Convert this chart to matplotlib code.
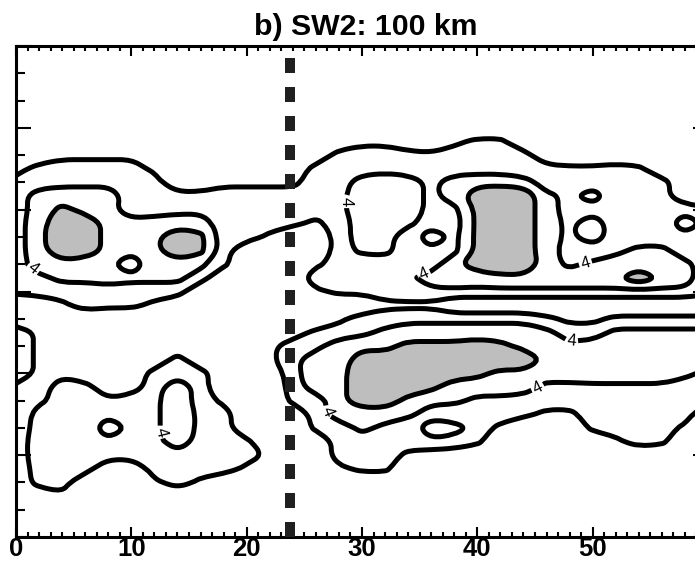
# -*- coding: utf-8 -*-
"""
Contour panel b) SW2: 100 km
"""

#%% Imports
import numpy as np
import matplotlib
matplotlib.use('Agg')
import matplotlib.pyplot as plt
from matplotlib.ticker import MultipleLocator
from matplotlib.path import Path
from matplotlib.patches import PathPatch

plt.rcParams['font.family'] = ['Liberation Sans', 'DejaVu Sans']

#%% Data
# grid positions of the field samples
x_km = np.arange(0, 61, 2)          # 0, 2, ... 60
y_pos = np.arange(0, 18.5, 0.5)     # 0, 0.5, ... 18

# field, one string per x column (x = 0, 2, ... 60), bottom (y=0) to top (y=18)
# every 0.5; each hex digit is the value in half units (8 -> 4.0)
field_cols = [
    "0000012210037777005666666662000000000",  # x=0
    "00006666663233330067ABBBAA66000000000",  # x=2
    "00036666666630000369BEFEDA76300000000",  # x=4
    "00000666566600000669AEEEBA76300000000",  # x=6
    "00000067B7500000056A9BBBAA76300000000",  # x=8
    "0000006676620000056959AA5666300000000",  # x=10
    "00003666777660000369BBBA6663000000000",  # x=12
    "0000666BBBBB66000069AFFA7600000000000",  # x=14
    "000036667766600000069DDA7600000000000",  # x=16
    "0000066666300000000056666630000000000",  # x=18
    "0000036500000000000000666630000000000",  # x=20
    "0000003000000330000000366630000000000",  # x=22
    "0000000000567762000000056630000000000",  # x=24
    "00000000566AAA75003730036666000000000",  # x=26
    "000003666ABBBAA6305666667766600000000",  # x=28
    "000005669AEEEEB7605659AAAAA6630000000",  # x=30
    "000005667AEEEEB9636669AAAAA7630000000",  # x=32
    "0000003659BEEEDA73776659AAA6600000000",  # x=34
    "00000027B69DEEDA737A67B67776500000000",  # x=36
    "00000026A59AEEDA707BB7767AA6630000000",  # x=38
    "00000005667ADEEA707AEDDDDEB6650000000",  # x=40
    "00000000367ABFDA707BFEEEEFB6650000000",  # x=42
    "00000000056ABFBA707BFEEEEFA5600000000",  # x=44
    "000000000367ABA9507BAAAAA966000000000",  # x=46
    "000000000367AA96307B76776765000000000",  # x=48
    "000000005667BAA6307B95BB6A65000000000",  # x=50
    "000000036667BAA9507BA7556566000000000",  # x=52
    "000000066667BAA9507FA9666665000000000",  # x=54
    "000000056667BAA9507BA9666660000000000",  # x=56
    "0000000036669AA9507A967A7000000000000",  # x=58
    "0000000000567AA9505566675000000000000",  # x=60
]

plain_levels = [2, 6]
label_level = [4]
shade_levels = [6, 100]

# where the "4" labels sit
label_spots = [(1.6, 9.9), (13.1, 3.9), (28.4, 12.3), (35.2, 9.8),
               (49.4, 10.0), (48.2, 7.0), (45.3, 5.4), (27.2, 4.6)]

front_x = 23.8
x_ticks = [0, 10, 20, 30, 40, 50]


#%% Function definitions
def smoothPath(path):
    """Redraw a contour polyline as quadratic curves through its edge midpoints"""
    verts, codes = path.vertices, path.codes
    if len(verts) == 0:
        return None
    if codes is None:
        codes = np.full(len(verts), Path.LINETO)
        codes[0] = Path.MOVETO
    out_v, out_c = [], []
    starts = list(np.where(codes == Path.MOVETO)[0]) + [len(codes)]
    for s, e in zip(starts[:-1], starts[1:]):
        pts = verts[s:e]
        closed = codes[e-1] == Path.CLOSEPOLY
        if closed:
            pts = pts[:-1]
        if len(pts) > 2 and np.allclose(pts[0], pts[-1]):
            closed = True
            pts = pts[:-1]
        n = len(pts)
        if n < 3:
            out_v += list(pts)
            out_c += [Path.MOVETO] + [Path.LINETO]*(n-1)
            continue
        if closed:
            mids = (pts + np.roll(pts, -1, axis=0)) / 2.
            out_v.append(mids[-1])
            out_c.append(Path.MOVETO)
            for i in range(n):
                out_v += [pts[i], mids[i]]
                out_c += [Path.CURVE3, Path.CURVE3]
            out_v.append(mids[-1])
            out_c.append(Path.CLOSEPOLY)
        else:
            mids = (pts[:-1] + pts[1:]) / 2.
            out_v += [pts[0], mids[0]]
            out_c += [Path.MOVETO, Path.LINETO]
            for i in range(1, n-1):
                out_v += [pts[i], mids[i]]
                out_c += [Path.CURVE3, Path.CURVE3]
            out_v.append(pts[-1])
            out_c.append(Path.LINETO)
    return Path(np.array(out_v), out_c)


#%% Build the field
for col in field_cols:
    assert len(col) == len(y_pos)
Z = np.array([[int(c, 16) / 2. for c in col] for col in field_cols]).T

#%% Plot
fig = plt.figure(figsize=(6.95, 5.66), dpi=100)
fig.patch.set_facecolor('white')
ax = fig.add_axes([16/695., 29/566., 692/695., 491/566.])

cf = ax.contourf(x_km, y_pos, Z, levels=shade_levels, colors=['#bebebe'])
cs = ax.contour(x_km, y_pos, Z, levels=plain_levels, colors='k',
                linewidths=3.6)
cs4 = ax.contour(x_km, y_pos, Z, levels=label_level, colors='k',
                 linewidths=3.6)
ax.clabel(cs4, manual=label_spots, inline=True, inline_spacing=2,
          fmt='%d', fontsize=12, colors='k')

# rounded versions of the library's contour paths
for p in cf.get_paths():
    sp = smoothPath(p)
    if sp is not None:
        ax.add_patch(PathPatch(sp, facecolor='#bebebe', edgecolor='none',
                               zorder=1))
for p in list(cs.get_paths()) + list(cs4.get_paths()):
    sp = smoothPath(p)
    if sp is not None:
        ax.add_patch(PathPatch(sp, fill=False, edgecolor='k', lw=3.6,
                               joinstyle='round', capstyle='butt', zorder=2))
cf.set_visible(False)
cs.set_visible(False)
cs4.set_visible(False)

ax.axvline(front_x, color='#202020', lw=7.2, dashes=(1.5, 1.4), zorder=3)

ax.set_xlim(0, 60)
ax.set_ylim(0, 18)
ax.xaxis.set_major_locator(MultipleLocator(10))
ax.xaxis.set_minor_locator(MultipleLocator(1))
ax.yaxis.set_major_locator(MultipleLocator(3))
ax.yaxis.set_minor_locator(MultipleLocator(1))
ax.set_xticks(x_ticks)
ax.set_xticklabels([str(t) for t in x_ticks], fontsize=18.5, fontweight='bold')

ax.tick_params(which='both', direction='in', top=True, right=True, width=1.5,
               labelleft=False)
ax.tick_params(axis='x', which='major', length=7, pad=0)
ax.tick_params(axis='x', which='minor', length=3.5)
ax.tick_params(axis='y', which='major', length=11)
ax.tick_params(axis='y', which='minor', length=6.5)
for s in ax.spines.values():
    s.set_linewidth(2.2)

ax.set_title('b) SW2: 100 km', fontsize=21.8, fontweight='bold', pad=8,
             x=0.506)

fig.savefig('out.png', dpi=100)
plt.close()
